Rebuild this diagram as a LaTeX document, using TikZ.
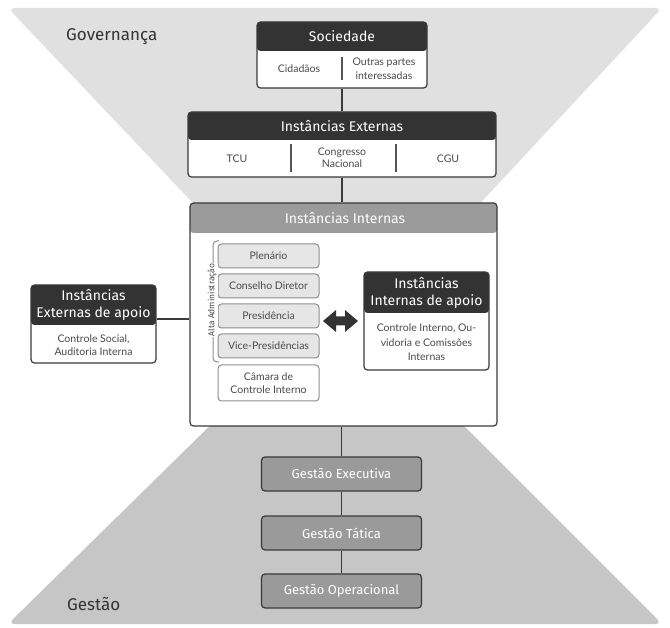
\documentclass[tikz,border=0pt]{standalone}
\usepackage{fontspec}
\setmainfont{Fira Sans}
\newfontfamily\bodyfont{Lato}
\definecolor{topgray}{HTML}{E0E0E0}
\definecolor{botgray}{HTML}{C6C6C6}
\definecolor{hdark}{HTML}{333333}
\definecolor{hmid}{HTML}{9B9B9B}
\definecolor{gfill}{HTML}{9A9A9A}
\definecolor{lightbox}{HTML}{E6E6E6}
\definecolor{bline}{HTML}{3A3A3A}
\definecolor{sline}{HTML}{8E8E8E}
\definecolor{dline}{HTML}{555555}
\definecolor{btext}{HTML}{4A4A4A}
\definecolor{ltext}{HTML}{333333}
\begin{document}
\begin{tikzpicture}[x=1pt,y=-1pt,
  box/.style={draw=bline, line width=1.2pt, rounded corners=3.5pt, fill=white, inner sep=0pt},
  hdr/.style n args={2}{path picture={\fill[#1] (path picture bounding box.north west) rectangle ([yshift=-#2]path picture bounding box.north east);}},
  htext/.style={text=white, font=\fontsize{14}{17.5}\selectfont, align=center, inner sep=0pt},
  body/.style={text=btext, font=\bodyfont\fontsize{10.5}{13.5}\selectfont, align=center, inner sep=0pt},
  conn/.style={draw=bline, line width=1.2pt},
  divider/.style={draw=dline, line width=2pt},
  small/.style={draw=sline, line width=1pt, rounded corners=3.5pt, fill=lightbox, minimum width=101pt, minimum height=24pt, inner sep=0pt, text=btext, font=\bodyfont\fontsize{10.5}{12.5}\selectfont, align=center},
  gbox/.style={draw=bline, line width=1.2pt, rounded corners=3.5pt, fill=gfill, minimum width=160pt, minimum height=34pt, inner sep=0pt, text=white, font=\fontsize{13}{15}\selectfont},
  region/.style={text=ltext, font=\fontsize{17}{20}\selectfont, anchor=west, inner sep=0pt}
]
\useasboundingbox (0,0) rectangle (670,628);
% hourglass background
\fill[topgray, rounded corners=7pt] (8,8) -- (662,8) -- (338,356) -- cycle;
\fill[botgray, rounded corners=7pt] (8,624) -- (338,300) -- (662,624) -- cycle;
% region labels
\node[region] (gov) at (66,37) {Governança};
\node[region] (ges) at (67,604) {Gestão};
% Sociedade
\node[box, hdr={hdark}{29pt}, minimum width=170pt, minimum height=66pt] (soc) at (342,55) {};
\node[htext] (soct) at (342,36.5) {Sociedade};
\node[body] (cid) at (299,69) {Cidadãos};
\node[body] (out) at (384,68.5) {Outras partes\\interessadas};
\coordinate (d0a) at (342,57); \coordinate (d0b) at (342,80);
\draw[divider] (d0a) -- (d0b);
% Instancias Externas
\node[box, hdr={hdark}{28pt}, minimum width=308pt, minimum height=65pt] (ext) at (342,144.5) {};
\node[htext] (extt) at (342,126) {Instâncias Externas};
\node[body] (tcu) at (237,158.5) {TCU};
\node[body, font=\bodyfont\fontsize{10.5}{12}\selectfont] (cn) at (342,157.5) {Congresso\\Nacional};
\node[body] (cgu) at (448,158.5) {CGU};
\coordinate (d1a) at (291,144); \coordinate (d1b) at (291,172);
\coordinate (d2a) at (396,144); \coordinate (d2b) at (396,172);
\draw[divider] (d1a) -- (d1b);
\draw[divider] (d2a) -- (d2b);
% Instancias Internas
\node[box, hdr={hmid}{30pt}, minimum width=307pt, minimum height=223pt] (int) at (343.5,314.5) {};
\node[htext] (intt) at (345,218) {Instâncias Internas};
\node[small] (plen) at (268.5,256) {Plenário};
\node[small] (cons) at (268.5,286) {Conselho Diretor};
\node[small] (pres) at (268.5,316) {Presidência};
\node[small] (vice) at (268.5,346) {Vice-Presidências};
\node[small, fill=white, minimum height=36pt] (cam) at (268.5,383) {Câmara de\\Controle Interno};
% Alta Administracao bracket
\coordinate (bt) at (219,241); \coordinate (bb) at (219,362);
\draw[sline, line width=1pt, rounded corners=4pt] (bt) -- (bt -| 213,0) -- (bb -| 213,0) -- (bb);
\node[rotate=90, fill=white, inner sep=1.2pt, text=btext, font=\fontsize{8.5}{10}\selectfont] (alta) at (212,300) {Alta Administração};
% double arrow
\coordinate (arr) at (340.5,321);
\fill[hdark] (arr) ++(-17.5,0) -- ++(13,-11) -- ++(0,6.5) -- ++(9,0) -- ++(0,-6.5) -- ++(13,11) -- ++(-13,11) -- ++(0,-6.5) -- ++(-9,0) -- ++(0,6.5) -- cycle;
% Instancias Internas de apoio
\node[box, hdr={hdark}{41pt}, minimum width=125pt, minimum height=98pt] (iap) at (426.5,321) {};
\node[htext] (iapt) at (426.5,293) {Instâncias\\Internas de apoio};
\node[body, font=\bodyfont\fontsize{10.5}{14.5}\selectfont] (iapb) at (426.5,342.5) {Controle Interno, Ou-\\vidoria e Comissões\\Internas};
% Instancias Externas de apoio
\node[box, hdr={hdark}{40pt}, minimum width=125pt, minimum height=78pt] (eap) at (93.5,324) {};
\node[htext, font=\fontsize{14}{16.5}\selectfont] (eapt) at (93.5,305) {Instâncias\\Externas de apoio};
\node[body] (eapb) at (93.5,345) {Controle Social,\\Auditoria Interna};
% Gestao boxes
\node[gbox] (gex) at (341.5,474) {Gestão Executiva};
\node[gbox] (gta) at (341.5,533) {Gestão Tática};
\node[gbox] (gop) at (341.5,591) {Gestão Operacional};
% connectors
\draw[conn] (soc.south) -- (ext.north);
\draw[conn] (ext.south) -- (ext.south |- int.north);
\draw[conn] (int.south -| gex.north) -- (gex.north);
\draw[conn] (gex.south) -- (gta.north);
\draw[conn] (gta.south) -- (gop.north);
\draw[conn] ([yshift=5pt]eap.east) -- ([yshift=5pt]eap.east -| int.west);
\end{tikzpicture}
\end{document}
